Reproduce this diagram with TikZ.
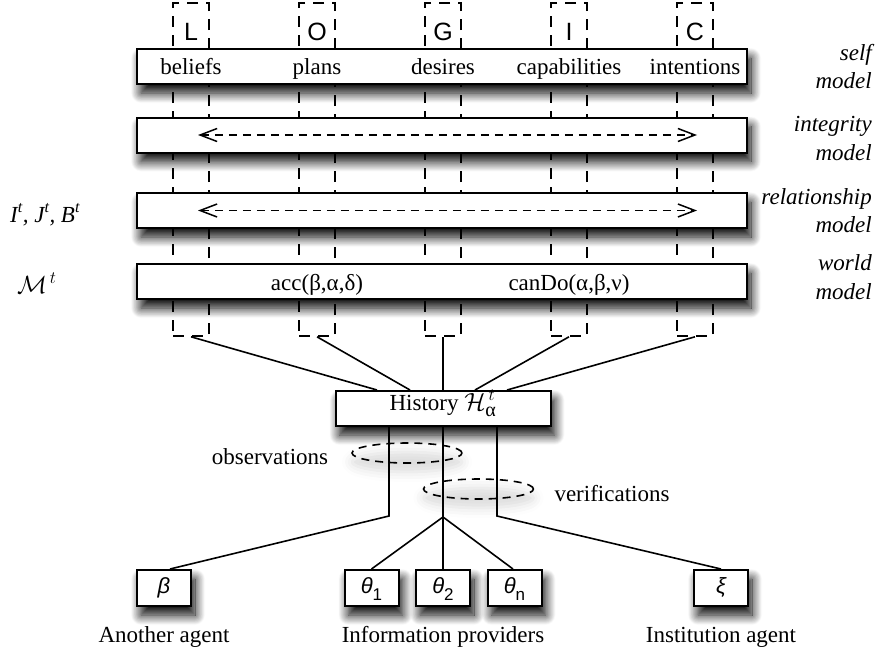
\documentclass[tikz,border=0pt]{standalone}
\usepackage{fontspec}
\setmainfont{Liberation Serif}
\newfontfamily\sansf{Liberation Sans}
\usetikzlibrary{arrows.meta,shadows.blur,shapes.geometric,calc}

\newcommand\bodyfont{\fontsize{23}{27}\selectfont}
\newcommand\letterfont{\sansf\fontsize{25}{29}\selectfont}
\newcommand\greekfont{\sansf\fontsize{22}{26}\selectfont\itshape}
\newcommand\subfont{\sansf\fontsize{17}{20}\selectfont\upshape}

\tikzset{
  softshadow/.style={blur shadow={shadow xshift=4pt, shadow yshift=-9pt,
      shadow blur radius=10pt, shadow blur steps=16, shadow opacity=100}},
  layer/.style={draw, line width=2pt, fill=white, minimum width=610pt,
      minimum height=35pt, inner sep=0pt, softshadow},
  dashcol/.style={draw, line width=1.6pt, dash pattern=on 11pt off 8pt,
      minimum width=36pt, minimum height=333pt, inner sep=0pt},
  colletter/.style={font=\letterfont, anchor=base, inner sep=0pt},
  txt/.style={font=\bodyfont, anchor=base, inner sep=0pt},
  side/.style={font=\bodyfont\itshape, anchor=base east, inner sep=0pt},
  leftlbl/.style={font=\bodyfont\itshape, anchor=base west, inner sep=0pt},
  wire/.style={line width=1.6pt},
  flow/.style={line width=1.5pt, dash pattern=on 8pt off 6pt,
      {Straight Barb[length=17pt,width=13pt]}-{Straight Barb[length=17pt,width=13pt]}},
  agent/.style={draw, line width=2pt, fill=white, minimum width=54pt,
      minimum height=36pt, inner sep=0pt, text height=14pt, text depth=4pt,
      font=\greekfont, softshadow},
  histbox/.style={draw, line width=2pt, fill=white, minimum width=215pt,
      minimum height=35pt, inner sep=0pt, text height=16pt, text depth=13pt,
      font=\bodyfont, softshadow},
  loop/.style={ellipse, draw, line width=1.6pt, dash pattern=on 8pt off 6pt,
      minimum width=110pt, minimum height=20pt, inner sep=0pt,
      blur shadow={shadow xshift=0pt, shadow yshift=-9pt,
      shadow blur radius=10pt, shadow opacity=14}},
}

\begin{document}
\begin{tikzpicture}[x=1pt, y=-1pt]
\useasboundingbox (0,0) rectangle (877,656);

% the five LOGIC columns
\node[dashcol] (cL) at (191,169.5) {};
\node[dashcol] (cO) at (317,169.5) {};
\node[dashcol] (cG) at (443,169.5) {};
\node[dashcol] (cI) at (569,169.5) {};
\node[dashcol] (cC) at (695,169.5) {};
\node[colletter] (lL) at (191,40) {L};
\node[colletter] (lO) at (317,40) {O};
\node[colletter] (lG) at (443,40) {G};
\node[colletter] (lI) at (569,40) {I};
\node[colletter] (lC) at (695,40) {C};

% model layers
\node[layer] (selfm) at (442,66.5) {};
\node[layer] (integ) at (442,135) {};
\node[layer] (relat) at (442,210.5) {};
\node[layer] (world) at (442,281.5) {};

\node[txt] (tBel) at (191,74) {beliefs};
\node[txt] (tPla) at (317,74) {plans};
\node[txt] (tDes) at (443,74) {desires};
\node[txt] (tCap) at (569,74) {capabilities};
\node[txt] (tInt) at (695,74) {intentions};

\coordinate (iL) at (198,135);
\coordinate (iR) at (697,135);
\draw[flow] (iL) -- (iR);
\coordinate (rL) at (198,210.5);
\coordinate (rR) at (697,210.5);
\draw[flow] (rL) -- (rR);

\node[txt] (tAcc) at (317,290) {acc(β,α,δ)};
\node[txt] (tCan) at (569,290) {canDo(α,β,ν)};

% layer names on the right
\node[side] (selfA) at (872,60) {self};
\node[side] (selfB) at (872,88) {model};
\node[side] (integA) at (872,131) {integrity};
\node[side] (integB) at (872,160) {model};
\node[side] (relatA) at (872,204) {relationship};
\node[side] (relatB) at (872,232) {model};
\node[side] (worldA) at (872,270) {world};
\node[side] (worldB) at (872,299) {model};

% symbols on the left
\node[leftlbl] (ijb) at (10,222) {I\textsuperscript{t}, J\textsuperscript{t}, B\textsuperscript{t}};
\node[leftlbl] (mt) at (17,293) {$\mathcal{M}^{\,t}$};

% history
\node[histbox] (hist) at (443,408.5)
  {History $\mathcal{H}^{\,t}_{\mbox{\fontsize{20}{20}\selectfont α}}$};

\draw[wire] (cL.south) -- ($(hist.north)+(-66,0)$);
\draw[wire] (cO.south) -- ($(hist.north)+(-33,0)$);
\draw[wire] (cG.south) -- (hist.north);
\draw[wire] (cI.south) -- ($(hist.north)+(32,0)$);
\draw[wire] (cC.south) -- ($(hist.north)+(64,0)$);

% observation and verification loops
\node[loop] (obs) at (407,453) {};
\node[loop] (ver) at (478.5,489) {};
\node[txt] (tObs) at (270,464) {observations};
\node[txt] (tVer) at (612,501) {verifications};

% sources
\node[agent] (beta) at (164,588) {β};
\node[agent] (th1) at (371.5,588) {θ\raisebox{-7pt}{\subfont 1}};
\node[agent] (th2) at (443,588) {θ\raisebox{-7pt}{\subfont 2}};
\node[agent] (thn) at (514.5,588) {θ\raisebox{-7pt}{\subfont n}};
\node[agent] (xi) at (721,588) {ξ};

\coordinate (jL) at (389,516);
\coordinate (jM) at (443,517);
\coordinate (jR) at (497,516);

\draw[wire] (hist.south -| jL) -- (jL) -- ($(beta.north)+(6,0)$);
\draw[wire] (hist.south) -- (jM);
\draw[wire] (jM) -- (th1.north);
\draw[wire] (jM) -- (th2.north);
\draw[wire] (jM) -- ($(thn.north)+(-1.5,0)$);
\draw[wire] (hist.south -| jR) -- (jR) -- (xi.north);

\node[txt] (tAno) at (164,642) {Another agent};
\node[txt] (tInf) at (443,642) {Information providers};
\node[txt] (tIns) at (721,642) {Institution agent};
\end{tikzpicture}
\end{document}
